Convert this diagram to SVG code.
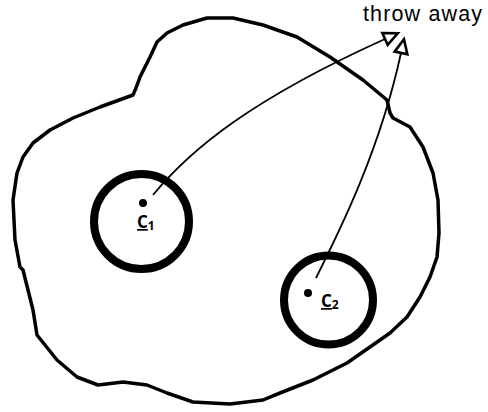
<svg xmlns="http://www.w3.org/2000/svg" width="488" height="412" viewBox="0 0 488 412">
<style>
.blob{fill:none;stroke:#000;stroke-width:3.5;stroke-linejoin:round;stroke-linecap:round}
.ring{fill:none;stroke:#000;stroke-width:8}
.dot{fill:#000}
.lbl{font-family:"Open Sans","Liberation Sans",sans-serif;font-weight:bold;fill:#000}
.conn{fill:none;stroke:#000;stroke-width:1.8}
.ttl{font-family:"Liberation Sans",Arial,sans-serif;font-size:21.5px;fill:#000}
</style>
<defs>
<marker id="ah" markerUnits="userSpaceOnUse" markerWidth="22" markerHeight="22" viewBox="-3 -3 22 22" refX="0" refY="6.5" orient="auto" overflow="visible">
<path d="M0,0 L14,6.5 L0,13 Z" fill="#fff" stroke="#000" stroke-width="2.6" stroke-linejoin="miter"/>
</marker>
</defs>
<rect width="488" height="412" fill="#fff"/>
<g id="region">
<polyline class="blob" points="13,200 17,173 23,157 33,143 50,130 73,118 100,107 133,95 136,88 140,77 150,57 157,42 167,33 183,25 207,18 233,18 263,25 297,37 330,57 363,80 387,100 390,113 393,118 410,127 423,147 433,173 438,200 439,233 437,257 430,277 420,297 407,317 390,333 370,347 347,363 313,380 280,393 263,400 230,404 193,402 167,393 147,385 123,382 98,385 77,377 57,360 37,335 33,310 23,270 20,267 15,240 13,200"/>
</g>
<g id="c1">
<circle class="ring" cx="141.5" cy="221.5" r="47.5"/>
<circle class="dot" cx="143" cy="203" r="4"/>
<text class="lbl" x="137" y="228" style="font-size:17px"><tspan text-decoration="underline">C</tspan><tspan style="font-size:12px" dy="2">1</tspan></text>
</g>
<g id="c2">
<circle class="ring" cx="328.5" cy="300" r="44.5"/>
<circle class="dot" cx="308" cy="293" r="4"/>
<text class="lbl" x="321" y="307" style="font-size:17px"><tspan text-decoration="underline">C</tspan><tspan style="font-size:12px" dy="2">2</tspan></text>
</g>
<g id="throw-away">
<text class="ttl" x="363" y="21" textLength="119" lengthAdjust="spacing">throw away</text>
</g>
<g id="connectors">
<path class="conn" d="M153,195 C190,150 250,100 385,39" marker-end="url(#ah)"/>
<path class="conn" d="M316,278 C340,230 380,150 401,53" marker-end="url(#ah)"/>
</g>
</svg>
